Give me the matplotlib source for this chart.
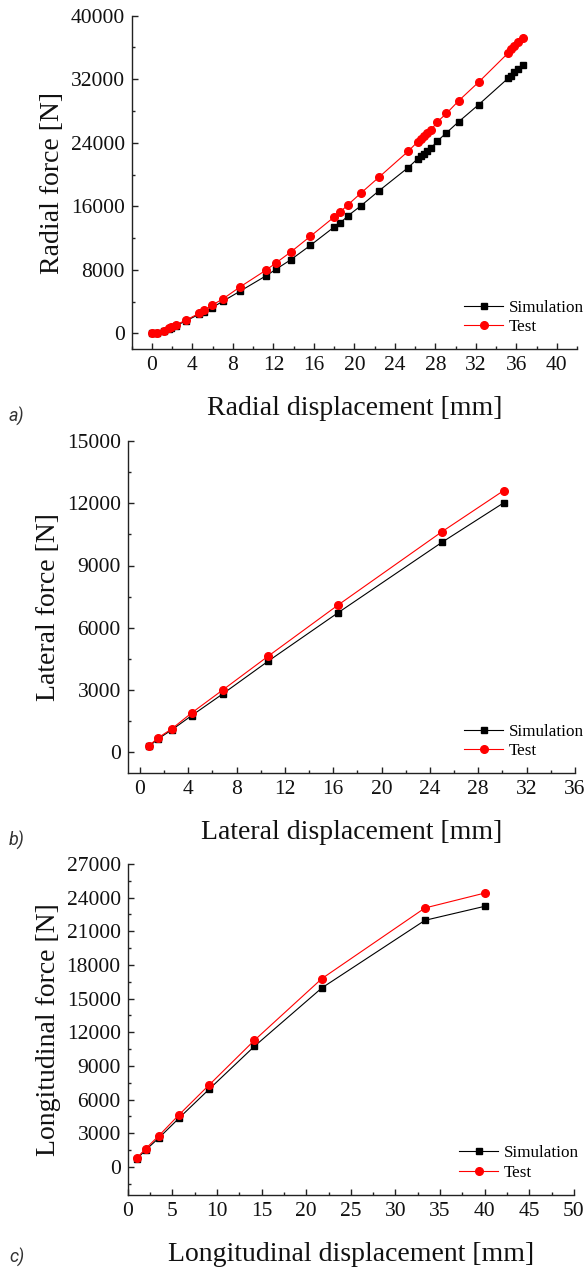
import matplotlib
matplotlib.use('Agg')
import matplotlib.pyplot as plt
from matplotlib.ticker import MultipleLocator

plt.rcParams['font.family'] = ['Liberation Serif', 'DejaVu Serif']

# a) radial test
radial_disp = [0, 0.49, 1.15, 1.64, 1.9, 2.39, 3.38, 4.66, 5.15, 5.93, 7.05, 8.75,
               11.31, 12.26, 13.7, 15.64, 18.0, 18.59, 19.38, 20.66, 22.46, 25.3,
               26.26, 26.6, 26.9, 27.2, 27.56, 28.2, 29.1, 30.3, 32.3, 35.2, 35.5,
               35.8, 36.2, 36.7]
radial_sim = [0, 30, 290, 550, 720, 970, 1600, 2400, 2740, 3240, 4080, 5350,
              7280, 8080, 9260, 11070, 13390, 13890, 14820, 16080, 17980, 20860,
              21990, 22330, 22620, 22910, 23330, 24210, 25260, 26640, 28820, 32130,
              32460, 32880, 33260, 33800]
radial_test = [0, 40, 340, 630, 840, 1090, 1680, 2530, 2900, 3540, 4380, 5890,
               8000, 8880, 10230, 12210, 14650, 15280, 16210, 17680, 19700, 22910,
               24130, 24500, 24840, 25170, 25590, 26640, 27690, 29280, 31660, 35310,
               35750, 36200, 36650, 37150]

# b) lateral test
lateral_disp = [0.78, 1.5, 2.65, 4.3, 6.88, 10.62, 16.39, 25.0, 30.1]
lateral_sim = [290, 640, 1080, 1770, 2820, 4390, 6720, 10120, 12020]
lateral_test = [320, 690, 1130, 1900, 3010, 4630, 7090, 10630, 12610]

# c) longitudinal test
long_disp = [1.05, 2.0, 3.5, 5.75, 9.1, 14.2, 21.76, 33.3, 40.0]
long_sim = [735, 1500, 2590, 4350, 6910, 10755, 15960, 21980, 23230]
long_test = [820, 1620, 2790, 4650, 7290, 11290, 16790, 23080, 24410]

W, H = 588, 1267
fig = plt.figure(figsize=(W / 100, H / 100), dpi=100)


def make_axes(left, right, top, bottom):
    return fig.add_axes([left / W, 1 - bottom / H, (right - left) / W, (bottom - top) / H])


def style(ax, xlim, ylim, xmaj, xmin, ymaj, ymin, xlabel, ylabel):
    ax.set_xlim(*xlim)
    ax.set_ylim(*ylim)
    ax.xaxis.set_major_locator(MultipleLocator(xmaj))
    ax.xaxis.set_minor_locator(MultipleLocator(xmin))
    ax.yaxis.set_major_locator(MultipleLocator(ymaj))
    ax.yaxis.set_minor_locator(MultipleLocator(ymin))
    ax.spines['top'].set_visible(False)
    ax.spines['right'].set_visible(False)
    for s in ['left', 'bottom']:
        ax.spines[s].set_linewidth(1.0)
        ax.spines[s].set_color('#222222')
    ax.tick_params(which='major', direction='in', length=4, width=1.0,
                   labelsize=15.5, pad=5, colors='#222222', labelcolor='#111111')
    ax.tick_params(which='minor', direction='in', length=2.2, width=1.0, colors='#222222')
    ax.set_xlabel(xlabel, fontsize=20, labelpad=15, color='#111111')
    ax.set_ylabel(ylabel, fontsize=20, labelpad=4, color='#111111')


def draw(ax, x, sim, test, legend_xy):
    ax.plot(x, sim, color='black', lw=0.8, marker='s', ms=5, label='Simulation')
    ax.plot(x, test, color='red', lw=0.8, marker='o', ms=5.5, label='Test')
    ax.legend(loc='center left', bbox_to_anchor=(legend_xy[0] / W, 1 - legend_xy[1] / H),
              bbox_transform=fig.transFigure, frameon=False, fontsize=12.3,
              borderpad=0, borderaxespad=0, handlelength=2.3, handletextpad=0.3,
              labelspacing=0.2)


# Panel a
ax1 = make_axes(131.7, 577, 15.7, 349.3)
draw(ax1, radial_disp, radial_sim, radial_test, (464, 317.5))
style(ax1, (-2, 42), (-2000, 40000), 4, 2, 8000, 4000,
      'Radial displacement [mm]', 'Radial force [N]')

# Panel b
ax2 = make_axes(127.7, 575, 441, 773)
draw(ax2, lateral_disp, lateral_sim, lateral_test, (464, 741.5))
style(ax2, (-1, 36), (-1000, 15000), 4, 2, 3000, 1500,
      'Lateral displacement [mm]', 'Lateral force [N]')

# Panel c
ax3 = make_axes(127.7, 574, 864, 1195)
draw(ax3, long_disp, long_sim, long_test, (459, 1163))
style(ax3, (0, 50), (-2500, 27000), 5, 2.5, 3000, 1500,
      'Longitudinal displacement [mm]', 'Longitudinal force [N]')

# panel letters
for lbl, yy in [('a)', 416), ('b)', 840), ('c)', 1257)]:
    fig.text(9 / W, 1 - yy / H, lbl, family=['Roboto', 'DejaVu Sans'], style='italic',
             fontsize=13, color='#333333', va='center', ha='left')

plt.savefig('out.png', dpi=100)
